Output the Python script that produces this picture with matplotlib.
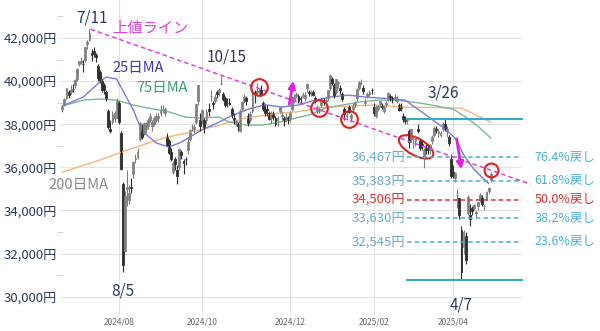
import numpy as np
import pandas as pd
import matplotlib
matplotlib.use("Agg")
import matplotlib.pyplot as plt
from matplotlib.patches import Ellipse
from matplotlib.transforms import ScaledTranslation

plt.rcParams['font.family'] = ['Noto Sans CJK JP', 'DejaVu Sans']

# trading days (TSE holidays removed)
holidays = ['2024-07-15', '2024-08-12', '2024-09-16', '2024-09-23', '2024-10-14',
            '2024-11-04', '2024-12-31', '2025-01-01', '2025-01-02', '2025-01-03',
            '2025-01-13', '2025-02-11', '2025-02-24', '2025-03-20']
dates = [d for d in pd.bdate_range('2024-06-24', '2025-04-25')
         if d.strftime('%Y-%m-%d') not in holidays]

opens = [38700, 38900, 39200, 39500, 39500,  # Jun
         39650, 39800, 40100, 40800, 40900, 40800, 41000, 41700, 41900, 41300, 41400,
         41200, 40700, 40400, 40000, 39800, 39500, 38600, 37800, 38100, 38300, 38300,  # Jul
         39000, 37600, 35250, 32100, 35000, 34500, 35100, 35700, 36400, 36500, 37300,
         37800, 37600, 37800, 37900, 38200, 37900, 38000, 38200, 38300, 38500,  # Aug
         38700, 38500, 37400, 37200, 36700, 35800, 36400, 35900, 36000, 36700, 36300,
         36400, 36800, 37300, 37900, 37800, 38100, 39100, 38200,  # Sep
         38200, 38200, 38200, 38700, 39300, 39000, 39100, 39500, 39500, 39900, 39400,
         39200, 39000, 39000, 38700, 38300, 38000, 38000, 37700, 38700, 39100, 39200,  # Oct
         38400, 38200, 38600, 39500, 39500, 39500, 39600, 39000, 38700, 38700, 38500,
         38300, 38500, 38300, 38200, 38600, 38400, 38300, 38300, 38300,  # Nov
         38300, 38700, 39100, 39300, 39300, 39200, 39300, 39200, 39700, 39500, 39400,
         39500, 39200, 38600, 38600, 38900, 39100, 39100, 39200, 39700, 40100,  # Dec
         39800, 39500, 39900, 39700, 39400, 38700, 38400, 38800, 38300, 38700, 38900,
         39200, 39700, 39900, 39700, 39000, 39300, 39400, 39600,  # Jan
         38800, 38400, 38700, 38900, 38900, 38600, 38900, 39200, 39300, 39200, 39200,
         39100, 38900, 38800, 38400, 38200, 38200, 37700,  # Feb
         37300, 37300, 37200, 37800, 37200, 37100, 36500, 36900, 36800, 36800, 37200,
         37500, 37800, 37600, 37500, 37800, 38000, 37700, 37400, 36400,  # Mar
         35800, 35500, 34700, 34600, 33100, 32300, 32800, 33900, 33800, 34100, 34100,
         33900, 34200, 34500, 34600, 34200, 34600, 34900, 35400]  # Apr

highs = [38900, 39200, 39700, 39600, 39800,
         39850, 40100, 40600, 40950, 41100, 41000, 41600, 41900, 42426, 41500, 41600,
         41300, 40800, 40500, 40100, 39900, 39600, 38700, 38200, 38600, 38600, 39200,
         39100, 37700, 35300, 34900, 35900, 35200, 35500, 36300, 36600, 36900, 38100,
         38000, 38100, 38100, 38300, 38500, 38200, 38400, 38500, 38500, 38900,
         38900, 38800, 37600, 37300, 36900, 36300, 36500, 36100, 36900, 36800, 36400,
         36500, 37400, 37800, 38000, 38000, 38950, 39830, 38500,
         38700, 38300, 38700, 39000, 39600, 39100, 39400, 39600, 39700, 40257, 39500,
         39300, 39200, 39200, 38800, 38500, 38200, 38100, 38700, 39100, 39400, 39300,
         38500, 38600, 39700, 39600, 39900, 39700, 39800, 39100, 38900, 38900, 38600,
         38600, 38600, 38400, 38400, 38800, 38600, 38400, 38500, 38400,
         38600, 39300, 39400, 39500, 39400, 39300, 39500, 39500, 39900, 39600, 39600,
         39600, 39300, 38900, 38800, 39200, 39200, 39200, 39600, 40300, 40200,
         39900, 40100, 40000, 39800, 39500, 38800, 38600, 38900, 38500, 39000, 39100,
         39700, 40000, 40100, 39800, 39200, 39500, 39600, 39700,
         39000, 38900, 38900, 39100, 39000, 38900, 39100, 39500, 39400, 39300, 39400,
         39300, 39000, 39000, 38500, 38400, 38300, 37800,
         37800, 37400, 37500, 38000, 37300, 37200, 36900, 37100, 37000, 37100, 37500,
         37900, 37900, 37800, 37700, 38100, 38220, 37900, 37500, 36600,
         36100, 35800, 35000, 34600, 33300, 33100, 33000, 34700, 34300, 34200, 34300,
         34000, 34400, 34800, 34700, 34300, 34900, 35100, 35800]

lows = [38560, 38830, 39170, 39200, 39400,
        39500, 39700, 40000, 40700, 40800, 40400, 40900, 41500, 41850, 40950, 41100,
        40900, 40000, 39900, 39500, 39400, 39100, 37800, 37600, 38000, 38100, 38300,
        38000, 35880, 31156, 32100, 34200, 34300, 34800, 35500, 36200, 36400, 37200,
        37300, 37500, 37600, 37800, 38100, 37700, 37900, 38100, 38100, 38400,
        38500, 38400, 37000, 36600, 36300, 35700, 35900, 35250, 35900, 36400, 35700,
        36100, 36600, 37200, 37700, 37600, 38000, 38900, 37700,
        38000, 37600, 38000, 38400, 39100, 38700, 39000, 39200, 39300, 39800, 39100,
        38800, 38800, 38900, 38300, 38000, 37900, 37700, 37650, 38600, 39000, 38900,
        37900, 38100, 38500, 39000, 39300, 39300, 39300, 38600, 38400, 38400, 38200,
        38000, 38200, 37900, 37900, 38500, 38200, 37900, 38100, 38000,
        38100, 38600, 39000, 39200, 39000, 39000, 39200, 39100, 39500, 39300, 39300,
        39300, 39000, 38500, 38500, 38800, 38900, 39000, 39100, 39600, 39800,
        39200, 39400, 39700, 39400, 39100, 38200, 38200, 38500, 38100, 38600, 38800,
        39100, 39600, 39800, 39400, 38900, 39200, 39300, 39400,
        38400, 38300, 38600, 38800, 38700, 38500, 38800, 39100, 39100, 39000, 39100,
        39000, 38600, 38600, 38100, 38000, 38000, 36900,
        37200, 36900, 37000, 37600, 36800, 36800, 35990, 36600, 36600, 36600, 37100,
        37400, 37600, 37400, 37400, 37700, 37700, 37400, 37000, 35500,
        35500, 35300, 34100, 33600, 30792, 32000, 31500, 33800, 33300, 33800, 34000,
        33700, 34000, 34400, 34200, 34000, 34500, 34800, 35300]

closes = [38804, 39173, 39667, 39341, 39583,
          39631, 40074, 40580, 40913, 40912, 40780, 41580, 41831, 42224, 41190, 41275,
          41097, 40126, 40063, 39599, 39594, 39154, 37869, 37667, 38468, 38525, 39101,
          38126, 35909, 31458, 34675, 35089, 34831, 35025, 36232, 36442, 36726, 38062,
          37388, 38062, 37951, 38211, 38364, 38110, 38288, 38371, 38362, 38647,
          38700, 38686, 37047, 36657, 36391, 36215, 36159, 35619, 36833, 36581, 36203,
          36380, 37155, 37723, 37940, 37870, 38925, 39829, 37919,
          38651, 37808, 38552, 38635, 39332, 38937, 39277, 39380, 39605, 39910, 39180,
          38911, 38981, 38954, 38411, 38104, 38143, 37913, 38605, 39027, 39277, 39081,
          38053, 38474, 39480, 39381, 39500, 39533, 39376, 38721, 38535, 38642, 38220,
          38414, 38352, 38026, 38283, 38780, 38442, 38134, 38349, 38208,
          38513, 39248, 39276, 39395, 39091, 39160, 39367, 39372, 39849, 39470, 39457,
          39364, 39081, 38813, 38701, 39161, 39036, 39130, 39568, 40281, 39894,
          39307, 40083, 39981, 39605, 39190, 38474, 38444, 38572, 38451, 38902, 39027,
          39646, 39958, 39931, 39565, 39016, 39414, 39513, 39572,
          38520, 38798, 38831, 39066, 38787, 38801, 38963, 39461, 39149, 39174, 39270,
          39164, 38678, 38776, 38237, 38142, 38256, 37155,
          37785, 37331, 37418, 37704, 36887, 37028, 36793, 36819, 36790, 37053, 37396,
          37845, 37751, 37677, 37608, 38027, 37780, 37799, 37120, 35617,
          35624, 35725, 34736, 33780, 31136, 33012, 31714, 34609, 33585, 33982, 34267,
          33920, 34377, 34730, 34279, 34220, 34868, 35039, 35705]

# moving averages
ma25_dates = ['2024-06-24', '2024-07-08', '2024-07-19', '2024-07-24', '2024-07-31',
              '2024-08-13', '2024-08-19', '2024-08-28', '2024-09-05', '2024-09-12',
              '2024-09-20', '2024-09-30', '2024-10-10', '2024-10-21', '2024-11-01',
              '2024-11-14', '2024-11-26', '2024-12-06', '2024-12-18', '2024-12-27',
              '2025-01-16', '2025-01-28', '2025-02-07', '2025-02-26', '2025-03-14',
              '2025-03-25', '2025-04-02', '2025-04-08', '2025-04-15', '2025-04-24']
ma25 = [38850, 39260, 39960, 40190, 40100, 38660, 37700, 37130, 36940, 37130,
        37400, 37700, 38050, 38350, 38700, 38900, 38800, 38890, 39120, 39260,
        39350, 39260, 39210, 39120, 38290, 37870, 37360, 36600, 35900, 35250]

ma75_dates = ['2024-06-24', '2024-07-08', '2024-07-19', '2024-07-31', '2024-08-13',
              '2024-08-22', '2024-09-04', '2024-09-18', '2024-09-30', '2024-10-11',
              '2024-10-21', '2024-10-31', '2024-11-13', '2024-11-25', '2024-12-05',
              '2024-12-13', '2024-12-25', '2025-01-10', '2025-01-23', '2025-02-05',
              '2025-02-19', '2025-03-06', '2025-03-19', '2025-04-01', '2025-04-08',
              '2025-04-17', '2025-04-25']
ma75 = [38840, 39120, 39170, 39120, 38890, 38750, 38600, 38330, 38290, 38330,
        38100, 37960, 37960, 38100, 38290, 38430, 38750, 38890, 39030, 39120,
        39120, 39000, 38850, 38700, 38400, 37900, 37360]

ma200_dates = ['2024-06-24', '2024-07-19', '2024-08-13', '2024-09-04', '2024-09-30',
               '2024-10-11', '2024-10-31', '2024-11-25', '2024-12-05', '2024-12-25',
               '2025-02-04', '2025-02-20', '2025-04-07', '2025-04-25']
ma200 = [35780, 36340, 36900, 37400, 37730, 37960, 38290, 38520, 38570, 38800,
         38890, 38800, 38750, 38100]

# fibonacci retracement from 3/26 high to 4/7 low
fib_high = 38220
fib_low = 30792
fib_levels = [36467, 35383, 34506, 33630, 32545]
fib_names = ['76.4%戻し', '61.8%戻し', '50.0%戻し', '38.2%戻し', '23.6%戻し']
fib_colors = ['#4aaed6', '#4aaed6', '#e03030', '#4aaed6', '#4aaed6']

# resistance line and touches
line_dates = ['2024-07-11', '2025-04-25']
line_prices = [42426, 35870]
touch_dates = ['2024-11-11', '2024-12-20', '2025-01-16', '2025-04-25']
touch_prices = [39720, 38750, 38240, 35870]

tick_months = ['2024-08', '2024-10', '2024-12', '2025-02', '2025-04']
tick_labels = ['2024/08', '2024/10', '2024/12', '2025/02', '2025/04']

pos = {d.strftime('%Y-%m-%d'): i for i, d in enumerate(dates)}
def px(d):
    return pos[d]

o = np.array(opens); h = np.array(highs); l = np.array(lows); c = np.array(closes)
x = np.arange(len(dates))
up = c >= o

fig = plt.figure(figsize=(6, 3.31), dpi=100)
ax = fig.add_axes([0.1, 0.048, 0.768, 0.952])
ax.set_xlim(-1.1, 219.4)
ax.set_ylim(29146, 43763)

# grid
yt = np.arange(30000, 42001, 2000)
ax.set_yticks(yt)
ax.set_yticklabels([f'{v:,}円' for v in yt], color='#2b3a5c', fontsize=9.5)
ax.set_yticks(np.arange(31000, 43001, 2000), minor=True)
xt = [next(i for i, d in enumerate(dates) if d.strftime('%Y-%m') == m) for m in tick_months]
ax.set_xticks(xt)
ax.set_xticklabels(tick_labels, fontsize=6, color='#666666')
ax.tick_params(axis='both', which='major', length=0, pad=2)
ax.tick_params(axis='y', which='minor', length=4, color='#cccccc', direction='inout')
ax.grid(True, color='#e3e3e3', lw=0.8)
ax.set_axisbelow(True)
for s in ax.spines.values():
    s.set_visible(False)

# moving averages
ax.plot([px(d) for d in ma200_dates], ma200, color='#f5b47c', lw=1)
ax.plot([px(d) for d in ma75_dates], ma75, color='#7fb59a', lw=1)
ax.plot([px(d) for d in ma25_dates], ma25, color='#7a7ade', lw=1)

# candles
wick = np.where(up, '#7f7f7f', '#2e2e2e')
ax.vlines(x, l, h, colors=wick, lw=0.8)
body = np.maximum(np.abs(c - o), 25)
ax.bar(x, body, bottom=np.minimum(o, c), width=0.9,
       color=np.where(up, '#d0d0d0', '#333333'), edgecolor=wick, lw=0.6)

# fib lines
x0 = px('2025-02-27')
x1 = 220
ax.plot([x0, x1], [fib_high, fib_high], color='#35aac4', lw=1.5, clip_on=False)
ax.plot([x0, x1], [fib_low, fib_low], color='#35aac4', lw=1.5, clip_on=False)
for lv, nm, col in zip(fib_levels, fib_names, fib_colors):
    ax.plot([x0, x1], [lv, lv], color=col, lw=1.1, ls=(0, (3, 2)), clip_on=False)
    ax.text(x0 - 1, lv, f'{lv:,}円', color='#e03030' if col == '#e03030' else '#6aa8cc',
            fontsize=9.5, ha='right', va='center')
    ax.text(226, lv, nm, color=col, fontsize=9, ha='left', va='center', clip_on=False)

# resistance line
lx = [px(d) for d in line_dates]
slope = (line_prices[1] - line_prices[0]) / (lx[1] - lx[0])
ax.plot([lx[0] + 0.5, 224], [line_prices[0] + 0.5 * slope, line_prices[0] + (224 - lx[0]) * slope],
        color='#e040e0', lw=1.1, ls=(0, (3, 2)), clip_on=False)

# touches
ax.plot([px(d) for d in touch_dates[:3]], touch_prices[:3], 'o', ms=12, mfc='none',
        mec='#e02020', mew=1.5)
ax.plot([px(touch_dates[3])], [touch_prices[3]], 'o', ms=10, mfc='none', mec='#e02020', mew=1.5)
tr = fig.dpi_scale_trans + ScaledTranslation(px('2025-03-05') + 0.3, 36950, ax.transData)
ax.add_patch(Ellipse((0, 0), 0.38, 0.17, angle=-28, transform=tr, fill=False,
                     ec='#e02020', lw=1.5))

# arrows
ax.annotate('', xy=(px('2024-12-03') + 0.8, 40140), xytext=(px('2024-11-29') + 0.4, 38800),
            arrowprops=dict(arrowstyle='-|>', color='#e020e0', lw=2, mutation_scale=10))
ax.annotate('', xy=(px('2025-04-04') + 1.2, 35780), xytext=(px('2025-04-02') + 0.5, 37450),
            arrowprops=dict(arrowstyle='-|>', color='#e020e0', lw=2, mutation_scale=10))

# labels
navy = '#2b3a5c'
ax.text(14.1, 42928, '7/11', color=navy, fontsize=11, ha='center', va='center')
ax.text(24.1, 42464, '上値ライン', color='#e040e0', fontsize=11, ha='left', va='center')
ax.text(24.1, 40608, '25日MA', color='#3a3aa8', fontsize=10.5, ha='left', va='center')
ax.text(35.6, 39680, '75日MA', color='#3aa070', fontsize=10.5, ha='left', va='center')
ax.text(-6.8, 35179, '200日MA', color='#8a8a8a', fontsize=10.5, ha='left', va='center',
        clip_on=False)
ax.text(68.9, 41118, '10/15', color=navy, fontsize=11, ha='left', va='center')
ax.text(175, 39448, '3/26', color=navy, fontsize=11, ha='left', va='center')
ax.text(29, 30260, '8/5', color=navy, fontsize=11, ha='center', va='center')
ax.text(190.8, 29610, '4/7', color=navy, fontsize=11, ha='center', va='center')

fig.savefig('out.png', dpi=100)
